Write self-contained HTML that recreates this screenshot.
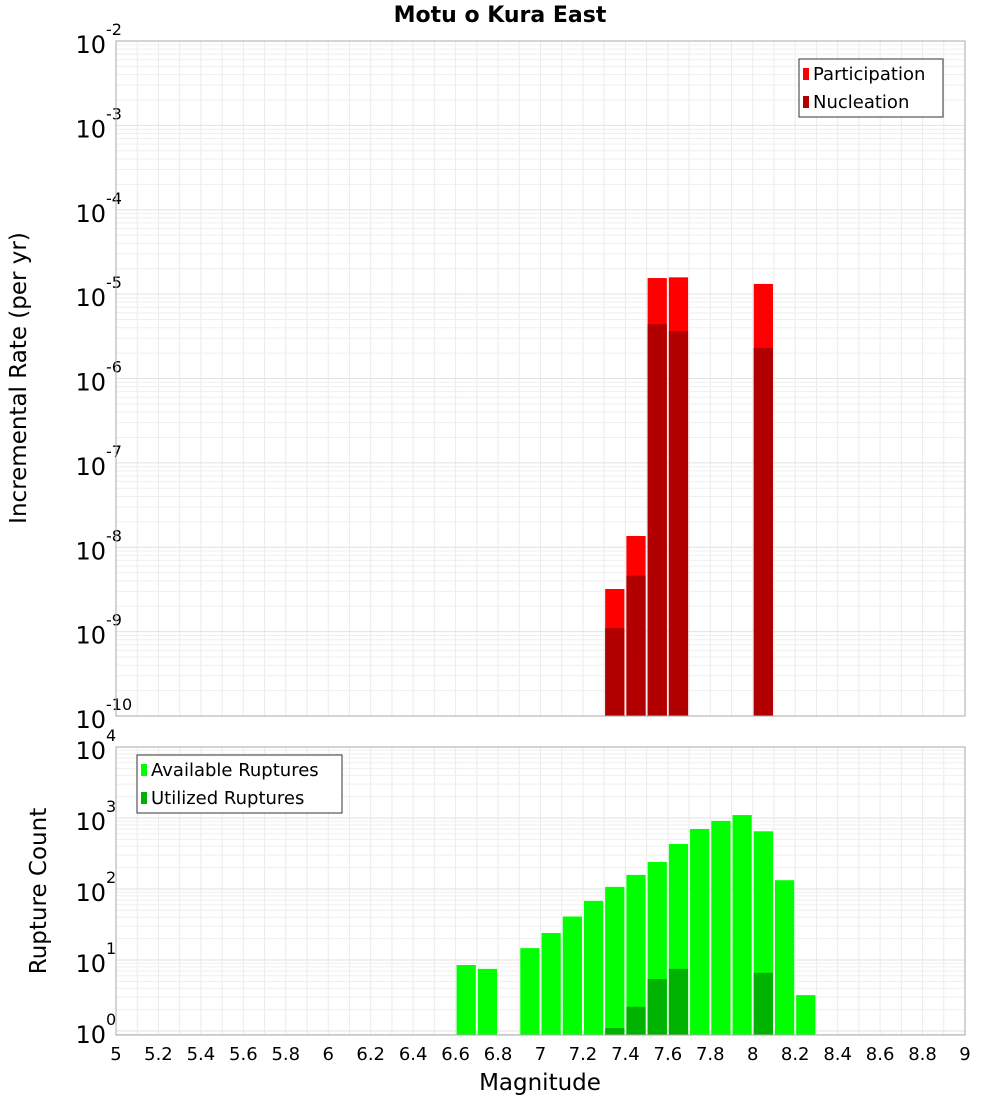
<!DOCTYPE html>
<html><head><meta charset="utf-8"><style>
body{margin:0;background:#fff;}
svg{font-family:"DejaVu Sans","Liberation Sans",sans-serif;}
</style></head><body>
<svg id="c" width="1000" height="1100" xmlns="http://www.w3.org/2000/svg">
<text x="500" y="22" text-anchor="middle" font-size="22" font-weight="bold">Motu o Kura East</text>
<text transform="translate(26,378) rotate(-90)" text-anchor="middle" font-size="23">Incremental Rate (per yr)</text>
<text transform="translate(46,891) rotate(-90)" text-anchor="middle" font-size="23">Rupture Count</text>
<text x="540" y="1090" text-anchor="middle" font-size="23">Magnitude</text>
<g id="topG"></g><g id="botG"></g>
</svg>
<script>
const mags=[7.35,7.45,7.55,7.65,8.05];
const participation=[3.2e-9,1.36e-8,1.55e-5,1.58e-5,1.32e-5];
const nucleation=[1.1e-9,4.6e-9,4.4e-6,3.66e-6,2.3e-6];
const countMags=[6.65,6.75,6.95,7.05,7.15,7.25,7.35,7.45,7.55,7.65,7.75,7.85,7.95,8.05,8.15,8.25];
const available=[8.5,7.5,14.7,24,41,68,107,158,240,430,700,910,1100,650,133,3.2];
const utilMags=[7.35,7.45,7.55,7.65,8.05];
const utilized=[1.1,2.2,5.4,7.5,6.6];
const xTicks=[5,5.2,5.4,5.6,5.8,6,6.2,6.4,6.6,6.8,7,7.2,7.4,7.6,7.8,8,8.2,8.4,8.6,8.8,9];
const topExps=[-2,-3,-4,-5,-6,-7,-8,-9,-10];
const botExps=[4,3,2,1,0];
const NS="http://www.w3.org/2000/svg";
const X0=116,X1=965;
const xs=m=>X0+(m-5)/4*(X1-X0);
const yTop=v=>41+(-2-Math.log10(v))*84.375;
const yBot=v=>747+(4-Math.log10(v))*71;
function el(p,t,a){const e=document.createElementNS(NS,t);for(const k in a)e.setAttribute(k,a[k]);p.appendChild(e);return e;}
function panel(g,y0,y1,yf,exps,name){
  const bg=el(g,'rect',{x:X0,y:y0,width:X1-X0,height:y1-y0,fill:'#fff'});
  
  
  for(let i=0;i<=40;i++){const m=5+i*0.1;el(g,'line',{x1:xs(m),x2:xs(m),y1:y0,y2:y1,stroke:'#ebebeb','stroke-width':1});}
  const mn=Math.min(...exps),mx=Math.max(...exps);
  for(let e=mn-1;e<=mx;e++)for(let k=1;k<10;k++){const y=yf(k*Math.pow(10,e));if(y>=y0&&y<=y1)el(g,'line',{x1:X0,x2:X1,y1:y,y2:y,stroke:k==1?'#e2e2e2':'#efefef','stroke-width':1});}
  exps.forEach(e=>{const y=yf(Math.pow(10,e));
    const t=el(g,'text',{x:106,y:y+12,'text-anchor':'end','font-size':24});
    
    
    t.textContent='10';
    const s=el(g,'text',{x:106,y:y-6,'font-size':16});
    s.textContent=String(e);
  });
}
const topG=document.getElementById('topG'),botG=document.getElementById('botG');
panel(topG,41,716,yTop,topExps,'top');
panel(botG,747,1035,yBot,botExps,'bottom');
const bw=(X1-X0)/40-2;
mags.forEach((m,i)=>{
  const p=el(topG,'rect',{x:xs(m)-bw/2,y:yTop(participation[i]),width:bw,height:716-yTop(participation[i]),fill:'#ff0000'});
  
  
  const n=el(topG,'rect',{x:xs(m)-bw/2,y:yTop(nucleation[i]),width:bw,height:716-yTop(nucleation[i]),fill:'#b20000'});
  
  
});
countMags.forEach((m,i)=>{
  const r=el(botG,'rect',{x:xs(m)-bw/2,y:yBot(available[i]),width:bw,height:1035-yBot(available[i]),fill:'#00ff00'});
  
  
});
utilMags.forEach((m,i)=>{
  const r=el(botG,'rect',{x:xs(m)-bw/2,y:yBot(utilized[i]),width:bw,height:1035-yBot(utilized[i]),fill:'#00b200'});
  
  
});
el(topG,'rect',{x:X0,y:41,width:X1-X0,height:675,fill:'none',stroke:'#aaa'});
el(botG,'rect',{x:X0,y:747,width:X1-X0,height:288,fill:'none',stroke:'#aaa'});
xTicks.forEach(m=>{
  const t=el(botG,'text',{x:xs(m),y:1060,'text-anchor':'middle','font-size':18});
  
  
  t.textContent=String(m);
});
function legend(g,x,y,w,items,name){
  const b=el(g,'rect',{x:x,y:y,width:w,height:58,fill:'#fff',stroke:'#333'});
  
  
  items.forEach((it,i)=>{
    el(g,'rect',{x:x+4,y:y+9+i*28,width:6,height:12,fill:it[1]});
    const t=el(g,'text',{x:x+14,y:y+21+i*28,'font-size':18});
    
    
    t.textContent=it[0];
  });
}
legend(topG,799,59,144,[['Participation','#ff0000'],['Nucleation','#b20000']],'top-legend');
legend(botG,137,755,205,[['Available Ruptures','#00ff00'],['Utilized Ruptures','#00b200']],'bottom-legend');
</script>
</body></html>
